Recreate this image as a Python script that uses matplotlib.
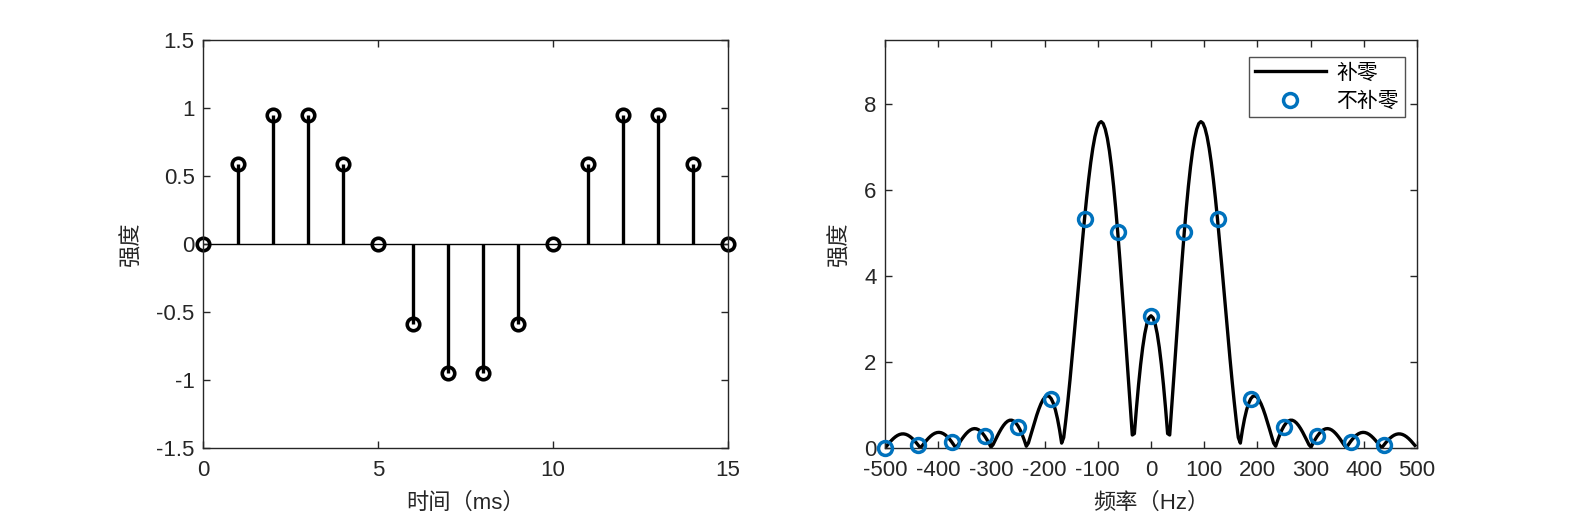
import numpy as np
import matplotlib
matplotlib.use("Agg")
import matplotlib.pyplot as plt

# ---- data ----
time_ms = list(range(16))
signal = [0.0, 0.588, 0.951, 0.951, 0.588, 0.0, -0.588, -0.951, -0.951, -0.588,
          0.0, 0.588, 0.951, 0.951, 0.588, 0.0]
fs = 1000.0          # Hz (1 ms sampling)
n_pad = 256          # zero-padded FFT length

# non-padded DFT magnitudes (16 bins)
freq_bins = [-500, -437.5, -375, -312.5, -250, -187.5, -125, -62.5,
             0, 62.5, 125, 187.5, 250, 312.5, 375, 437.5]
mag_bins = [0.0, 0.06, 0.15, 0.27, 0.5, 1.13, 5.33, 5.02,
            3.08, 5.02, 5.33, 1.13, 0.5, 0.27, 0.15, 0.06]

left_xticks = [0, 5, 10, 15]
left_yticks = [-1.5, -1, -0.5, 0, 0.5, 1, 1.5]
left_yticklabels = ["-1.5", "-1", "-0.5", "0", "0.5", "1", "1.5"]
right_xticks = list(range(-500, 501, 100))
right_yticks = [0, 2, 4, 6, 8]

# zero-padded spectrum computed from the signal above
spec = np.abs(np.fft.fftshift(np.fft.fft(np.array(signal), n_pad)))
freq_pad = (np.arange(n_pad) - n_pad // 2) * fs / n_pad

# ---- style ----
plt.rcParams['font.family'] = ['Liberation Sans', 'Noto Sans CJK SC', 'DejaVu Sans']
plt.rcParams['axes.unicode_minus'] = False
axcol = '#262626'
blue = '#0072BD'
tick_fs = 16
label_fs = 16

fig = plt.figure(figsize=(15.75, 5.25), dpi=100)
ax1 = fig.add_axes([203/1575, 77/525, 525/1575, 408/525])
ax2 = fig.add_axes([885/1575, 77/525, 532/1575, 408/525])

def style(ax):
    for s in ax.spines.values():
        s.set_color(axcol)
        s.set_linewidth(1.0)
    ax.tick_params(direction='in', length=5, width=1.0, colors=axcol,
                   labelsize=tick_fs, top=True, right=True)
    ax.tick_params(axis='y', pad=6)
    ax.tick_params(axis='x', pad=9)

# left: stem plot
ax1.plot([0, 15], [0, 0], color='black', lw=1.0, zorder=1)
ml, sl, bl = ax1.stem(time_ms, signal, linefmt='k-', markerfmt='ko', basefmt=' ')
plt.setp(sl, linewidth=2.4)
plt.setp(ml, markersize=9, markerfacecolor='none', markeredgewidth=2.6, markeredgecolor='black')
ml.set_clip_on(False)
ax1.set_xlim(0, 15)
ax1.set_ylim(-1.5, 1.5)
ax1.set_xticks(left_xticks)
ax1.set_yticks(left_yticks)
ax1.set_yticklabels(left_yticklabels)
ax1.set_xlabel("时间（ms）", fontsize=label_fs, color=axcol, labelpad=8)
ax1.set_ylabel("强度", fontsize=label_fs, color=axcol, labelpad=10)
style(ax1)

# right: spectrum
ax2.plot(freq_pad, spec, color='black', lw=2.4, label="补零", zorder=2)
ax2.plot(freq_bins, mag_bins, linestyle='none', marker='o', markersize=10,
         markerfacecolor='none', markeredgecolor=blue, markeredgewidth=2.5,
         label="不补零", zorder=3, clip_on=False)
ax2.set_xlim(-500, 500)
ax2.set_ylim(0, 9.5)
ax2.set_xticks(right_xticks)
ax2.set_yticks(right_yticks)
ax2.set_xlabel("频率（Hz）", fontsize=label_fs, color=axcol, labelpad=8)
ax2.set_ylabel("强度", fontsize=label_fs, color=axcol, labelpad=10)
style(ax2)
leg = ax2.legend(loc='upper right', bbox_to_anchor=(1 - 12/532, 1 - 17/408),
                 borderaxespad=0, fontsize=15,
                 frameon=True, fancybox=False, edgecolor=axcol, handlelength=3.4,
                 borderpad=0.3, labelspacing=0.45, handletextpad=0.5)
leg.get_frame().set_linewidth(1.0)

fig.savefig("out.png", dpi=100)
